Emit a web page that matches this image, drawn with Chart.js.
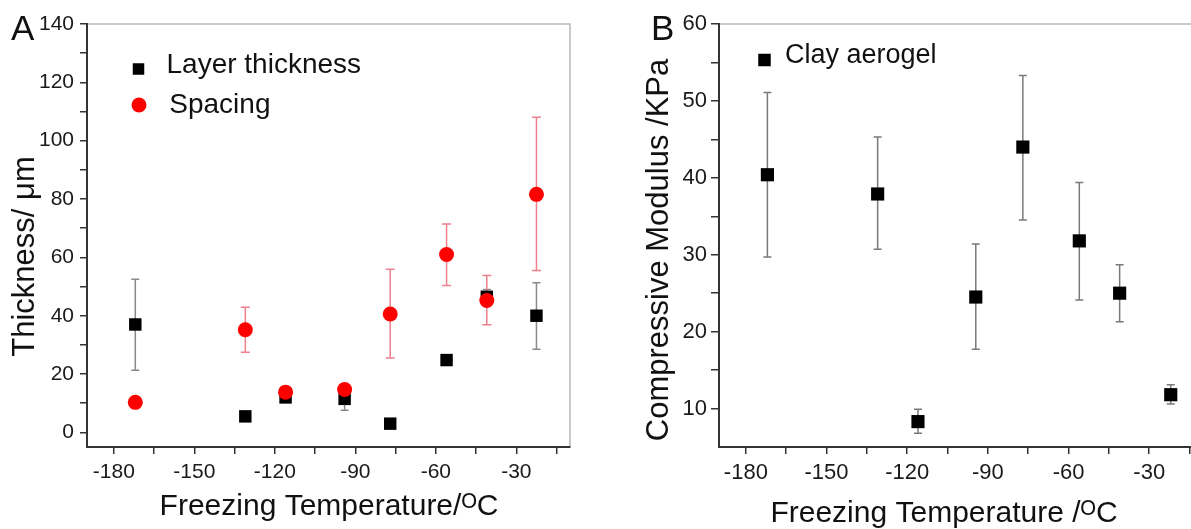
<!DOCTYPE html>
<html>
<head>
<meta charset="utf-8">
<script src="https://cdn.jsdelivr.net/npm/chart.js@4.4.0/dist/chart.umd.min.js"></script>
<style>
  html, body { margin: 0; padding: 0; background: #fff; overflow: hidden; width: 1191px; height: 529px; }
  .panel { position: absolute; top: 0; height: 529px; overflow: hidden; }
  #wrapA { left: 0; width: 600px; }
  #wrapB { left: 600px; width: 591px; }
</style>
</head>
<body>
<div class="panel" id="wrapA"><canvas id="chartA" width="600" height="529"></canvas></div>
<div class="panel" id="wrapB"><canvas id="chartB" width="640" height="529"></canvas></div>
<script>
// panel A: layer thickness and spacing vs freezing temperature
const tempA = [-172, -131, -116, -94, -77, -56, -41, -22.5];
const layerThickness = [37, 5.5, 12, 11.5, 3, 24.8, 46.5, 40];
const layerHigh = [52.5, 5.5, 13, 14, 3, 24.8, 49, 51.3];
const layerLow = [21.3, 5.5, 11, 7.6, 3, 24.8, 44, 28.5];
const spacing = [10.3, 35.2, 13.8, 14.7, 40.6, 61, 45.2, 81.6];
const spacingHigh = [12, 42.9, 15.5, 16, 55.9, 71.4, 53.8, 108];
const spacingLow = [8.8, 27.5, 12, 13.5, 25.5, 50.4, 36.9, 55.5];

// panel B: compressive modulus
const tempB = [-172, -131, -116, -94.5, -77, -56, -41, -22];
const modulus = [40.4, 37.9, 8.3, 24.5, 44.0, 31.8, 25.0, 11.8];
const modulusHigh = [51.1, 45.3, 9.9, 31.4, 53.3, 39.4, 28.7, 13.1];
const modulusLow = [29.7, 30.7, 6.8, 17.7, 34.5, 24.1, 21.3, 10.6];

// ticks
const xMajor = [-180, -150, -120, -90, -60, -30];
const xMinor = [-165, -135, -105, -75, -45, -15];
const yMajorA = [0, 20, 40, 60, 80, 100, 120, 140];
const yMinorA = [10, 30, 50, 70, 90, 110, 130];
const yMajorB = [10, 20, 30, 40, 50, 60];
const yMinorB = [15, 25, 35, 45, 55];

const FONT = '"Liberation Sans", Arial, Helvetica, sans-serif';

const toPoints = (xs, ys) => xs.map((x, i) => ({ x: x, y: ys[i] }));

function axis(min, max, major, minor, fontSize, tickLen, pad, fit) {
  return {
    type: 'linear',
    min: min,
    max: max,
    bounds: 'data',
    afterBuildTicks: s => {
      s.ticks = major.concat(minor).sort((a, b) => a - b).map(v => ({ value: v }));
    },
    afterFit: fit,
    ticks: {
      autoSkip: false,
      maxRotation: 0,
      padding: pad,
      color: '#1a1a1a',
      font: { family: FONT, size: fontSize },
      callback: v => major.includes(v) ? String(v) : ''
    },
    grid: { drawOnChartArea: false, tickLength: tickLen, color: '#333', lineWidth: 1.5 },
    border: { display: true, color: '#333', width: 2 }
  };
}

const decor = {
  id: 'decor',
  beforeDatasetsDraw(chart) {
    const { ctx, scales: { x, y } } = chart;
    chart.data.datasets.forEach(ds => {
      if (!ds.errHigh) return;
      ctx.save();
      ctx.strokeStyle = ds.errColor;
      ctx.lineWidth = 1.5;
      ds.data.forEach((p, i) => {
        const px = x.getPixelForValue(p.x);
        const top = y.getPixelForValue(ds.errHigh[i]);
        const bot = y.getPixelForValue(ds.errLow[i]);
        if (Math.abs(bot - top) < 1) return;
        const w = ds.capWidth / 2;
        ctx.beginPath();
        ctx.moveTo(px, top); ctx.lineTo(px, bot);
        ctx.moveTo(px - w, top); ctx.lineTo(px + w, top);
        ctx.moveTo(px - w, bot); ctx.lineTo(px + w, bot);
        ctx.stroke();
      });
      ctx.restore();
    });
  },
  afterDraw(chart, args, o) {
    const { ctx, chartArea: a } = chart;
    ctx.save();
    // light frame on top and right
    ctx.strokeStyle = '#b8b8b8';
    ctx.lineWidth = 1.5;
    ctx.beginPath();
    ctx.moveTo(a.left + 1, a.top);
    ctx.lineTo(a.right, a.top);
    ctx.lineTo(a.right, a.bottom - 1);
    ctx.stroke();

    ctx.fillStyle = '#111';
    ctx.textAlign = 'left';
    ctx.textBaseline = 'alphabetic';
    ctx.font = '35px ' + FONT;
    ctx.fillText(o.letter, o.letterX, 40);

    // legend inside the plot
    o.legend.forEach(item => {
      const ds = chart.data.datasets[item.dataset];
      ctx.fillStyle = ds.backgroundColor;
      ctx.beginPath();
      if (ds.pointStyle === 'rect') {
        ctx.rect(item.mx - item.size / 2, item.my - item.size / 2, item.size, item.size);
      } else {
        ctx.arc(item.mx, item.my, item.size / 2, 0, Math.PI * 2);
      }
      ctx.fill();
      ctx.fillStyle = '#111';
      ctx.font = o.legendFont + 'px ' + FONT;
      ctx.fillText(ds.label, item.tx, item.ty);
    });

    // axis titles
    ctx.textAlign = 'center';
    ctx.font = o.xTitle.size + 'px ' + FONT;
    ctx.fillText(o.xTitle.text, o.xTitle.x, o.xTitle.y);

    ctx.font = o.yTitle.size + 'px ' + FONT;
    ctx.translate(o.yTitle.x, o.yTitle.y);
    ctx.rotate(-Math.PI / 2);
    ctx.fillText(o.yTitle.text, 0, o.yTitle.size * 0.358);
    ctx.restore();
  }
};

new Chart(document.getElementById('chartA'), {
  type: 'scatter',
  data: {
    datasets: [
      {
        label: 'Layer thickness',
        data: toPoints(tempA, layerThickness),
        errHigh: layerHigh,
        errLow: layerLow,
        errColor: '#8a8a8a',
        capWidth: 8,
        pointStyle: 'rect',
        pointRadius: 8.8,
        backgroundColor: '#000',
        borderColor: '#000',
        borderWidth: 0,
        order: 2
      },
      {
        label: 'Spacing',
        data: toPoints(tempA, spacing),
        errHigh: spacingHigh,
        errLow: spacingLow,
        errColor: '#ee7f8c',
        capWidth: 9,
        pointStyle: 'circle',
        pointRadius: 7.5,
        backgroundColor: '#ff0000',
        borderColor: '#ff0000',
        borderWidth: 0,
        order: 1
      }
    ]
  },
  options: {
    responsive: false,
    animation: false,
    events: [],
    layout: { padding: { top: 24, right: 30, left: 0, bottom: 0 } },
    scales: {
      x: axis(-190, -10, xMajor, xMinor, 21, 7, 6, s => { s.height = 82; }),
      y: axis(-5, 140, yMajorA, yMinorA, 21, 7, 6, s => { s.width = 87; })
    },
    plugins: {
      legend: { display: false },
      tooltip: { enabled: false },
      decor: {
        letter: 'A',
        letterX: 11,
        legendFont: 28,
        legend: [
          { dataset: 0, mx: 138.5, my: 69, size: 11.5, tx: 166.5, ty: 73.3 },
          { dataset: 1, mx: 139, my: 105, size: 15, tx: 169.3, ty: 112.7 }
        ],
        xTitle: { text: 'Freezing Temperature/ᴼC', x: 329, y: 515, size: 30 },
        yTitle: { text: 'Thickness/ μm', x: 23, y: 256.5, size: 31 }
      }
    }
  },
  plugins: [decor]
});

new Chart(document.getElementById('chartB'), {
  type: 'scatter',
  data: {
    datasets: [
      {
        label: 'Clay aerogel',
        data: toPoints(tempB, modulus),
        errHigh: modulusHigh,
        errLow: modulusLow,
        errColor: '#7a7a7a',
        capWidth: 8,
        pointStyle: 'rect',
        pointRadius: 9.3,
        backgroundColor: '#000',
        borderColor: '#000',
        borderWidth: 0
      }
    ]
  },
  options: {
    responsive: false,
    animation: false,
    events: [],
    layout: { padding: { top: 24, right: 37, left: 0, bottom: 0 } },
    scales: {
      x: axis(-190, -10, xMajor, xMinor, 22, 7, 6, s => { s.height = 82; }),
      y: axis(5, 60, yMajorB, yMinorB, 22, 8, 4, s => { s.width = 119; })
    },
    plugins: {
      legend: { display: false },
      tooltip: { enabled: false },
      decor: {
        letter: 'B',
        letterX: 51,
        legendFont: 27,
        legend: [
          { dataset: 0, mx: 164.5, my: 60, size: 12.5, tx: 185, ty: 63.3 }
        ],
        xTitle: { text: 'Freezing Temperature /ᴼC', x: 344, y: 522, size: 30 },
        yTitle: { text: 'Compressive Modulus /KPa', x: 56.7, y: 250, size: 31 }
      }
    }
  },
  plugins: [decor]
});
</script>
</body>
</html>
